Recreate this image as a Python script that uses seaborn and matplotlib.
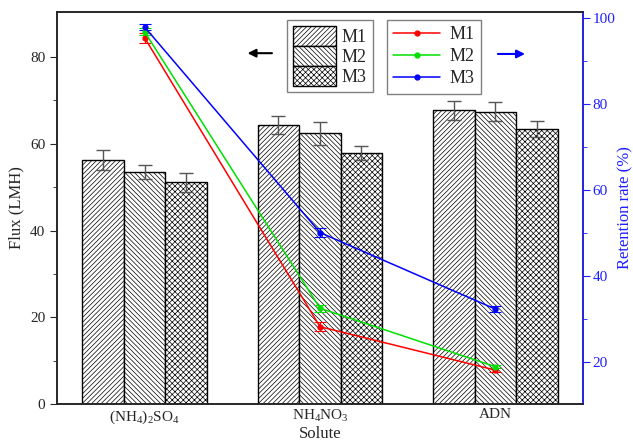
import numpy as np
import pandas as pd
import matplotlib
matplotlib.use("Agg")
import matplotlib.pyplot as plt
import seaborn as sns
from matplotlib.patches import Patch
from matplotlib.lines import Line2D

sns.set_style("ticks")
plt.rcParams.update({"font.family": ["Liberation Serif", "DejaVu Serif"],
                     "mathtext.fontset": "custom",
                     "mathtext.rm": "Liberation Serif",
                     "mathtext.it": "Liberation Serif:italic",
                     "hatch.linewidth": 0.5,
                     "axes.linewidth": 1.2})

# ---- data ----
solutes = ["(NH$_4$)$_2$SO$_4$", "NH$_4$NO$_3$", "ADN"]
membranes = ["M1", "M2", "M3"]
flux_m1 = [56.3, 64.3, 67.7]
flux_m2 = [53.5, 62.4, 67.4]
flux_m3 = [51.1, 57.9, 63.4]
flux_err_m1 = [2.3, 2.1, 2.2]
flux_err_m2 = [1.7, 2.7, 2.2]
flux_err_m3 = [2.2, 1.7, 1.9]
ret_m1 = [95.4, 28.2, 18.1]
ret_m2 = [96.8, 32.5, 18.9]
ret_m3 = [97.9, 50.1, 32.3]
ret_err_m1 = [1.2, 1.1, 0.5]
ret_err_m2 = [0.8, 0.8, 0.4]
ret_err_m3 = [0.6, 1.0, 0.8]

hatches = ["/" * 7, "\\" * 7, "x" * 6]
line_colors = ["#ff0000", "#00e000", "#0000ff"]

df = pd.DataFrame({
    "Solute": solutes * 3,
    "Membrane": np.repeat(membranes, 3),
    "Flux": flux_m1 + flux_m2 + flux_m3,
})
flux_err = flux_err_m1 + flux_err_m2 + flux_err_m3

fig = plt.figure(figsize=(6.33, 4.45), dpi=100)
ax = fig.add_axes([0.090, 0.092, 0.831, 0.881])

sns.barplot(data=df, x="Solute", y="Flux", hue="Membrane", order=solutes,
            hue_order=membranes, errorbar=None, width=0.71, ax=ax,
            palette=["white"] * 3, edgecolor="black", linewidth=1.0,
            legend=False)

bars = [p for p in ax.patches if p.get_height() > 0]
for i, bar in enumerate(bars):
    bar.set_hatch(hatches[i // 3])
xc = [b.get_x() + b.get_width() / 2 for b in bars]
yc = [b.get_height() for b in bars]
ax.errorbar(xc, yc, yerr=flux_err, fmt="none", ecolor="#555555",
            elinewidth=1.0, capsize=5, capthick=1.0, zorder=5)

ax.set_xlim(-0.5, 2.5)
ax.set_ylim(0, 90.4)
ax.set_yticks([0, 20, 40, 60, 80])
ax.set_yticks(np.arange(10, 90, 20), minor=True)
ax.set_ylabel("Flux (LMH)", fontsize=12, labelpad=4)
ax.set_xlabel("Solute", fontsize=12, labelpad=0)
ax.tick_params(axis="x", direction="in", length=5, labelsize=11, pad=3)
ax.tick_params(axis="y", which="major", direction="out", length=5, labelsize=11)
ax.tick_params(axis="y", which="minor", direction="out", length=3)

ax2 = ax.twinx()
ax2.set_position(ax.get_position())
xpos = np.arange(len(solutes))
for vals, errs, col in zip([ret_m1, ret_m2, ret_m3],
                           [ret_err_m1, ret_err_m2, ret_err_m3], line_colors):
    ax2.errorbar(xpos, vals, yerr=errs, color=col, lw=1.1, marker="o",
                 markersize=3.5, capsize=4, capthick=0.8, elinewidth=0.8)
ax2.set_ylim(10.2, 101.4)
ax2.set_yticks([20, 40, 60, 80, 100])
ax2.set_yticks([30, 50, 70, 90], minor=True)
ax2.set_ylabel("Retention rate (%)", color="#2020ff", fontsize=12, labelpad=1)
ax2.tick_params(axis="y", which="major", colors="#2020ff", direction="out",
                length=5, labelsize=11, pad=2)
ax2.tick_params(axis="y", which="minor", colors="#2020ff", direction="out", length=3)
ax2.spines["right"].set_color("#2020ff")
ax2.spines["right"].set_linewidth(1.2)

# legends
bar_handles = [Patch(facecolor="white", edgecolor="black", hatch=h) for h in hatches]
leg1 = ax2.legend(bar_handles, membranes, loc="upper left",
                  bbox_to_anchor=(0.437, 0.98), fancybox=False, edgecolor="gray",
                  fontsize=13, handlelength=2.4, handleheight=1.3,
                  labelspacing=0.0, handletextpad=0.3, borderpad=0.35,
                  borderaxespad=0, framealpha=1)
ax2.add_artist(leg1)
line_handles = [Line2D([0], [0], color=c, lw=1.1, marker="o", markersize=3.5)
                for c in line_colors]
ax2.legend(line_handles, membranes, loc="upper left",
           bbox_to_anchor=(0.627, 0.98), fancybox=False, edgecolor="gray",
           fontsize=13, handlelength=2.6, labelspacing=0.28,
           handletextpad=0.5, borderpad=0.35, borderaxespad=0, framealpha=1)

# arrows pointing to the relevant axes
ax.annotate("", xy=(0.357, 0.895), xytext=(0.414, 0.895), xycoords="axes fraction",
            arrowprops=dict(arrowstyle="-|>", color="black", lw=1.5,
                            mutation_scale=12))
ax.annotate("", xy=(0.895, 0.893), xytext=(0.833, 0.893), xycoords="axes fraction",
            arrowprops=dict(arrowstyle="-|>", color="#0000ff", lw=1.5,
                            mutation_scale=12))

fig.savefig("out.png", dpi=100, facecolor="white")
